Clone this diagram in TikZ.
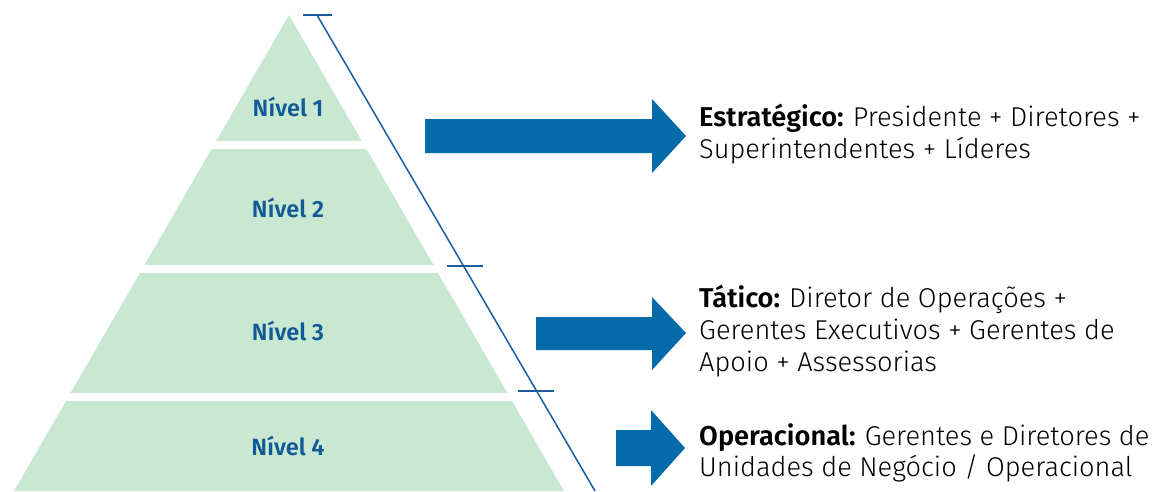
\documentclass[tikz,border=0pt]{standalone}
\usepackage{fontspec}
\setmainfont{Fira Sans}[UprightFont={* Light}, BoldFont={* SemiBold}]
\usetikzlibrary{calc}
\definecolor{pgreen}{HTML}{C9E8D2}
\definecolor{ablue}{HTML}{046BAA}
\definecolor{lblue}{HTML}{1A5C9E}
\definecolor{nblue}{HTML}{115A96}
\begin{document}
\begin{tikzpicture}[x=1pt,y=-1pt,
  level/.style={fill=pgreen},
  lvl/.style={font=\fontsize{23.5}{26}\selectfont\bfseries, text=nblue, inner sep=0pt},
  blk/.style={fill=ablue},
  desc/.style={anchor=base west, inner sep=0pt},
  rule/.style={draw=lblue, line width=1.5pt}]
\useasboundingbox (0,0) rectangle (1157,491);
% pyramid levels
\fill[level] (289,15) -- (361.8,141) -- (216.2,141) -- cycle;
\fill[level] (211.5,149) -- (366.5,149) -- (433.5,265) -- (144.5,265) -- cycle;
\fill[level] (140,273) -- (438,273) -- (507.5,393) -- (70.5,393) -- cycle;
\fill[level] (66,401) -- (512,401) -- (564,491) -- (14,491) -- cycle;
\node[lvl] (n1) at (288,107) {Nível 1};
\node[lvl] (n2) at (288,208) {Nível 2};
\node[lvl] (n3) at (288,331) {Nível 3};
\node[lvl] (n4) at (288,446) {Nível 4};
% scale line
\coordinate (lt) at (317,15);
\coordinate (lb) at (595,491);
\coordinate (t2) at (464,266);
\coordinate (t3) at (537,391);
\draw[rule] (lt) -- (lb);
\draw[rule] ($(lt)+(-14,0)$) -- ($(lt)+(15,0)$);
\draw[rule] ($(t2)+(-17,0)$) -- ($(t2)+(19,0)$);
\draw[rule] ($(t3)+(-19,0)$) -- ($(t3)+(17,0)$);
% block arrows
\fill[blk] (425,119) -- (652,119) -- (652,99) -- (686,136) -- (652,173) -- (652,153) -- (425,153) -- cycle;
\fill[blk] (536,317) -- (652,317) -- (652,297) -- (686,333) -- (652,370) -- (652,350) -- (536,350) -- cycle;
\fill[blk] (616,430) -- (651,430) -- (651,410) -- (685,448) -- (651,486) -- (651,466) -- (616,466) -- cycle;
% descriptions
\node[desc] (d1) at (699,126) {\parbox[t]{470pt}{\fontsize{27.2}{32}\selectfont\raggedright
  \textbf{Estratégico:}\hspace{-1pt} Presidente + Diretores +\\Superintendentes + Líderes}};
\node[desc] (d2) at (699,307) {\parbox[t]{470pt}{\fontsize{27.2}{32}\selectfont\raggedright
  \textbf{Tático:}\hspace{-1pt} Diretor de Operações +\\Gerentes Executivos + Gerentes de\\Apoio + Assessorias}};
\node[desc] (d3) at (699,445) {\parbox[t]{470pt}{\fontsize{27.2}{31}\selectfont\raggedright
  \textbf{Operacional:}\hspace{-1pt} Gerentes e Diretores de\\Unidades de Negócio / Operacional}};
\end{tikzpicture}
\end{document}
